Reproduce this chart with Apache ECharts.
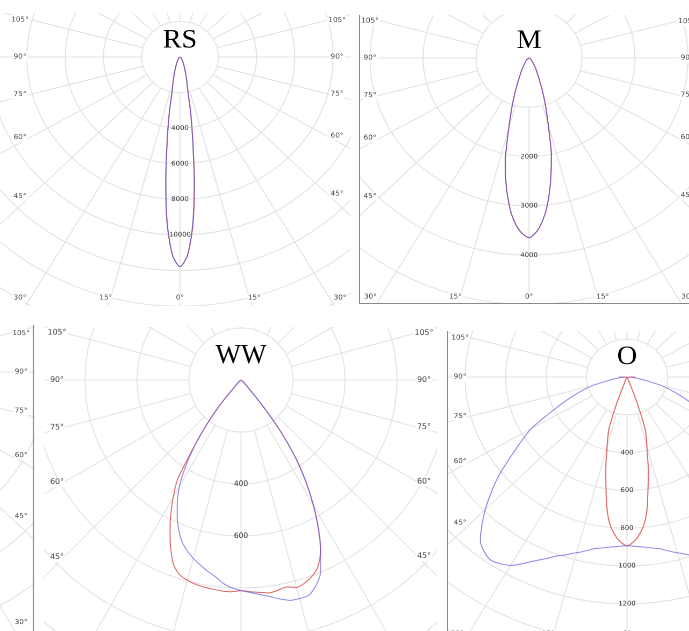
<!DOCTYPE html>
<html><head><meta charset="utf-8">
<script src="https://cdn.jsdelivr.net/npm/echarts@6/dist/echarts.min.js"></script>
<style>
html,body{margin:0;padding:0;background:#fff;}
#root{position:relative;width:689px;height:631px;overflow:hidden;background:#fff;}
.clip{position:absolute;overflow:hidden;}
.chart{position:absolute;left:0;top:0;transform-origin:0 0;}
</style></head><body><div id="root"></div>
<script>
// ---------- data (gamma in degrees, negative = left half; values in cd) ----------
const rsGamma = [-90,-80,-70,-60,-50,-40,-30,-25,-20,-15,-12,-10,-8,-6,-4,-2,0,2,4,6,8,10,12,15,20,25,30,40,50,60,70,80,90];
const rsRed   = [0,3,8,20,50,120,280,450,760,1380,2050,3300,4900,7150,9500,11150,11780,11150,9550,7250,4850,3250,2000,1350,750,450,280,120,50,20,8,3,0];
const rsBlue  = [0,3,8,20,50,120,280,450,750,1350,2000,3240,4800,7050,9450,11150,11780,11150,9450,7050,4800,3240,2000,1350,750,450,280,120,50,20,8,3,0];

const mGamma = [-90,-80,-70,-60,-50,-40,-30,-25,-21,-18,-15,-12,-9,-6,-3,0,3,6,9,12,15,18,21,25,30,40,50,60,70,80,90];
const mRed   = [0,3,8,20,50,110,260,430,720,1040,1480,2150,2700,3180,3500,3645,3470,3100,2580,2030,1400,1000,700,420,260,110,50,20,8,3,0];
const mBlue  = [0,3,8,20,50,110,260,430,720,1040,1480,2150,2700,3180,3500,3645,3470,3100,2580,2030,1400,1000,700,420,260,110,50,20,8,3,0];

const wwGamma = [-90,-80,-70,-60,-50,-45,-40,-37.5,-35,-32.5,-30,-27.5,-25,-22.5,-20,-17.5,-15,-12.5,-10,-7.5,-5,-2.5,0,2.5,5,7.5,10,12.5,15,17.5,20,22.5,25,27.5,30,32.5,35,37.5,40,45,50,60,70,80,90];
const wwRed   = [0,1,2,4,10,25,130,220,320,455,522,585,646,705,757,785,797,805,809,812,815,815,810,815,820,826,821,815,826,818,802,775,725,645,558,465,368,255,130,25,10,4,2,1,0];
const wwBlue  = [0,1,2,4,10,25,130,220,315,400,475,530,580,625,663,688,710,728,746,762,785,800,810,818,828,840,855,868,870,868,842,800,725,645,558,465,368,255,130,25,10,4,2,1,0];

const oGamma = [-90,-85,-80,-75,-70,-65,-60,-55,-50,-45,-40,-35,-30,-25,-22,-20,-18,-16,-14,-12,-10,-8,-6,-3,0,3,6,8,10,12,14,16,18,20,22,25,30,35,40,45,50,55,60,65,70,75,80,85,90];
const oRed   = [40,10,0,0,0,0,0,0,0,0,0,0,3,8,30,150,290,350,414,508,598,709,790,860,893,860,790,709,598,508,414,350,290,150,30,8,3,0,0,0,0,0,0,0,0,0,0,10,40];
const oBlue  = [10,35,75,178,272,385,546,676,838,991,1129,1180,1151,1073,1033,1007,990,970,955,938,922,914,906,898,893,898,906,914,922,938,955,970,990,1007,1033,1073,1151,1180,1129,991,838,676,546,385,272,178,75,35,10];

const titles = ['RS','M','WW','O'];
const rsRadiusLabels = [4000,6000,8000,10000];
const mRadiusLabels  = [2000,3000,4000];
const wwRadiusLabels = [400,600];
const oRadiusLabels  = [400,600,800,1000,1200];
const sideAngleLabels   = [105,90,75,60,45];
const bottomAngleLabels = [-30,-15,0,15,30];
const blAngleLabels     = [105,90,75,60,45,30];

// ---------- layout ----------
const GRID = '#e2e2e2';
const RED = '#e06464';
const BLUE = '#5a5ae0';
const panels = [
  {title:titles[0], left:0, top:13, width:351, height:293, cx:180, cy:57, sx:1.075, lsx:1.15,
   step:2000, px:35.6, steps:10, radLabels:rsRadiusLabels, gamma:rsGamma, red:rsRed, blue:rsBlue,
   leftX:20, rightX:337, bottomY:298, titleDy:-16.5, titleSize:26, fs:6.4},
  {title:titles[1], left:359, top:15, width:330, height:289, cx:529, cy:58, sx:1.075, lsx:1.15,
   step:1000, px:49.3, steps:7, radLabels:mRadiusLabels, gamma:mGamma, red:mRed, blue:mBlue,
   leftX:370, rightX:687, bottomY:297, titleDy:-17, titleSize:26, fs:6.4, borders:['left','bottom']},
  {title:null, left:0, top:325, width:35, height:306, cx:-145, cy:372, sx:1.07, lsx:1.15,
   step:1000, px:45, steps:8, radLabels:[], gamma:null,
   rightX:21, rightList:blAngleLabels, fs:6.4, borders:['right']},
  {title:titles[2], left:44, top:327, width:393, height:304, cx:241, cy:380, sx:1.0, lsx:1.04,
   step:200, px:52, steps:8, radLabels:wwRadiusLabels, gamma:wwGamma, red:wwRed, blue:wwBlue,
   leftX:57, rightX:424, titleDy:-24, titleSize:27, fs:7.5},
  {title:titles[3], left:447, top:331, width:242, height:300, cx:627, cy:377, sx:1.07, lsx:1.145,
   step:200, px:37.8, steps:10, radLabels:oRadiusLabels, gamma:oGamma, red:oRed, blue:oBlue,
   leftX:460, bottomY:634, titleDy:-20, titleSize:26, fs:6.4, borders:['left']}
];

const root = document.getElementById('root');

function sidePoint(p, g, xPage) {
  const a = g * Math.PI / 180;
  const t = Math.abs(xPage - p.cx) / (p.lsx * Math.abs(Math.sin(a)));
  return [xPage, p.cy + t * Math.cos(a)];
}
function bottomPoint(p, g, yPage) {
  const a = g * Math.PI / 180;
  const t = (yPage - p.cy) / Math.cos(a);
  return [p.cx + t * Math.sin(a) * p.lsx, yPage];
}

panels.forEach(p => {
  const clip = document.createElement('div');
  clip.className = 'clip';
  clip.style.cssText = `left:${p.left}px;top:${p.top}px;width:${p.width}px;height:${p.height}px;`;
  const el = document.createElement('div');
  el.className = 'chart';
  const w = Math.ceil(p.width / p.sx) + 1;
  el.style.width = w + 'px';
  el.style.height = p.height + 'px';
  el.style.transform = `scaleX(${p.sx})`;
  clip.appendChild(el);
  root.appendChild(clip);

  const chart = echarts.init(el, null, {renderer:'canvas', devicePixelRatio:2});
  const toL = (x, y) => [(x - p.left) / p.sx, y - p.top];
  const [cxL, cyL] = toL(p.cx, p.cy);
  const R = p.px * p.steps;

  const polar = [{center:[cxL, cyL], radius:[p.px, R]}];
  const angleAxis = [{
    polarIndex:0, type:'value', min:0, max:360, interval:15, startAngle:270, clockwise:true,
    axisLine:{show:false}, axisTick:{show:false}, axisLabel:{show:false},
    splitLine:{show:true, lineStyle:{color:GRID, width:1}}
  }];
  const radiusAxis = [{
    polarIndex:0, type:'value', min:p.step, max:p.step * p.steps, interval:p.step,
    axisLine:{show:false}, axisTick:{show:false},
    splitLine:{show:true, lineStyle:{color:GRID, width:1}},
    axisLabel:{show:true, margin:0, align:'center', verticalAlign:'middle',
      fontSize:p.fs, fontFamily:'DejaVu Sans', color:'#333',
      formatter: v => (p.radLabels.indexOf(v) >= 0 ? String(v) : '')}
  }];
  const series = [];
  if (p.gamma) {
    polar.push({center:[cxL, cyL], radius:[0, R]});
    angleAxis.push({polarIndex:1, type:'value', min:-180, max:180, startAngle:90, clockwise:false, show:false});
    radiusAxis.push({polarIndex:1, type:'value', min:0, max:p.step * p.steps, show:false});
    const mk = (vals, color, op, z) => ({
      type:'line', coordinateSystem:'polar', polarIndex:1, silent:true,
      data: p.gamma.map((g, i) => [vals[i], g]),
      showSymbol:false, symbol:'none', smooth:0.25, z:z,
      lineStyle:{color:color, width:1, opacity:op}, itemStyle:{color:color}
    });
    series.push(mk(p.red, RED, 1, 3), mk(p.blue, BLUE, 0.7, 4));
  }

  const g = [];
  const lab = (txt, xy) => {
    const [x, y] = toL(xy[0], xy[1]);
    g.push({type:'text', x:x, y:y, z:100, silent:true,
      style:{text:txt, fontSize:p.fs + 0.3, fontFamily:'DejaVu Sans', fill:'#444',
        align:'center', verticalAlign:'middle', backgroundColor:'#fff', padding:[1,1]}});
  };
  if (p.leftX !== undefined) sideAngleLabels.forEach(a => lab(a + '°', sidePoint(p, -a, p.leftX)));
  if (p.rightX !== undefined) (p.rightList || sideAngleLabels).forEach(a => lab(a + '°', sidePoint(p, a, p.rightX)));
  if (p.bottomY !== undefined) bottomAngleLabels.forEach(a => lab(Math.abs(a) + '°', bottomPoint(p, a, p.bottomY)));
  if (p.title) {
    g.push({type:'text', x:cxL, y:cyL + p.titleDy, z:101, silent:true,
      style:{text:p.title, fontSize:p.titleSize, fontFamily:'Liberation Serif', fill:'#000',
        align:'center', verticalAlign:'middle'}});
  }
  const bw = w - 0.5, bh = p.height - 0.5;
  (p.borders || []).forEach(b => {
    let shape;
    if (b === 'left') shape = {x1:0.5, y1:0, x2:0.5, y2:p.height};
    if (b === 'bottom') shape = {x1:0, y1:bh, x2:w, y2:bh};
    if (b === 'right') shape = {x1:(p.width - 1.5) / p.sx, y1:0, x2:(p.width - 1.5) / p.sx, y2:p.height};
    g.push({type:'line', z:102, silent:true, shape:shape, style:{stroke:'#8a8a8a', lineWidth:1}});
  });

  chart.setOption({
    animation:false,
    polar:polar, angleAxis:angleAxis, radiusAxis:radiusAxis, series:series,
    graphic:{elements:g}
  });
});
</script></body></html>
